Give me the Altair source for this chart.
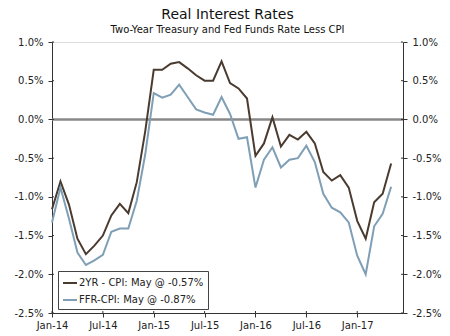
import altair as alt
import pandas as pd

months = ["Jan-14", "Feb-14", "Mar-14", "Apr-14", "May-14", "Jun-14", "Jul-14", "Aug-14", "Sep-14", "Oct-14", "Nov-14", "Dec-14",
          "Jan-15", "Feb-15", "Mar-15", "Apr-15", "May-15", "Jun-15", "Jul-15", "Aug-15", "Sep-15", "Oct-15", "Nov-15", "Dec-15",
          "Jan-16", "Feb-16", "Mar-16", "Apr-16", "May-16", "Jun-16", "Jul-16", "Aug-16", "Sep-16", "Oct-16", "Nov-16", "Dec-16",
          "Jan-17", "Feb-17", "Mar-17", "Apr-17", "May-17"]

two_yr = [-1.16, -0.80, -1.10, -1.54, -1.74, -1.63, -1.50, -1.24, -1.09, -1.21, -0.81, -0.15,
          0.64, 0.64, 0.72, 0.74, 0.66, 0.57, 0.50, 0.50, 0.75, 0.47, 0.40, 0.27,
          -0.47, -0.31, 0.03, -0.35, -0.20, -0.26, -0.16, -0.31, -0.68, -0.79, -0.72, -0.88,
          -1.31, -1.54, -1.07, -0.96, -0.57]

ffr = [-1.33, -0.88, -1.28, -1.72, -1.88, -1.82, -1.75, -1.45, -1.41, -1.41, -1.05, -0.45,
       0.34, 0.28, 0.32, 0.45, 0.29, 0.13, 0.09, 0.06, 0.29, 0.07, -0.25, -0.23,
       -0.88, -0.52, -0.36, -0.62, -0.52, -0.50, -0.34, -0.55, -0.96, -1.14, -1.20, -1.33,
       -1.76, -2.00, -1.38, -1.22, -0.87]

series_names = ["2YR - CPI: May @ -0.57%", "FFR-CPI: May @ -0.87%"]
series_colors = ["#4a3b30", "#7f9fb6"]

y_ticks = [-2.5, -2.0, -1.5, -1.0, -0.5, 0.0, 0.5, 1.0]
x_tick_labels = ["Jan-14", "Jul-14", "Jan-15", "Jul-15", "Jan-16", "Jul-16", "Jan-17"]

rows = []
for i, m in enumerate(months):
    rows.append({"idx": i, "month": m, "series": series_names[0], "value": two_yr[i]})
    rows.append({"idx": i, "month": m, "series": series_names[1], "value": ffr[i]})
df = pd.DataFrame(rows)

x_tick_idx = [months.index(m) for m in x_tick_labels]

FONT = "DejaVu Sans"
W, H = 351, 271
yscale = alt.Scale(domain=[-2.5, 1.0], nice=False, zero=False)
xscale = alt.Scale(domain=[0, 41.4], nice=False, zero=False)
label_expr_y = "(datum.value < 0 ? '-' : '') + format(abs(datum.value), '.1f') + '%'"
label_expr_x = "".join("datum.value == %d ? '%s' : " % (i, s) for i, s in zip(x_tick_idx, x_tick_labels)) + "''"

axis_common = dict(values=y_ticks, labelExpr=label_expr_y, grid=False, tickSize=4,
                   labelPadding=5, labelFont=FONT, labelFontSize=10, labelColor="#222",
                   domainColor="#333", tickColor="#333", title=None)

x_axis = alt.Axis(values=x_tick_idx, labelExpr=label_expr_x, grid=False, tickSize=4,
                  labelPadding=3, labelFont=FONT, labelFontSize=10, labelColor="#222",
                  labelOverlap=False, labelFlush=False,
                  domainColor="#333", tickColor="#333", title=None)

lines = alt.Chart(df).mark_line(strokeWidth=2).encode(
    x=alt.X("idx:Q", scale=xscale, axis=x_axis),
    y=alt.Y("value:Q", scale=yscale, axis=alt.Axis(orient="left", **axis_common)),
    color=alt.Color("series:N", scale=alt.Scale(domain=series_names, range=series_colors),
                    legend=alt.Legend(title=None, orient="none", legendX=6, legendY=229,
                                      symbolType="stroke", symbolStrokeWidth=2, symbolSize=196,
                                      labelFont=FONT, labelFontSize=10, labelColor="#222",
                                      labelOffset=1, rowPadding=4, padding=4,
                                      strokeColor="#444", fillColor="white")),
    detail="series:N",
)

zero = alt.Chart(pd.DataFrame({"v": [0.0]})).mark_rule(color="#888888", strokeWidth=2.5).encode(
    y=alt.Y("v:Q", scale=yscale, axis=alt.Axis(orient="right", **axis_common)),
)

yt = pd.DataFrame({"v": y_ticks})
left_in = alt.Chart(yt).mark_rule(color="#333", strokeWidth=1).encode(
    y=alt.Y("v:Q", scale=yscale, axis=None), x=alt.value(0), x2=alt.value(2))
right_in = alt.Chart(yt).mark_rule(color="#333", strokeWidth=1).encode(
    y=alt.Y("v:Q", scale=yscale, axis=None), x=alt.value(W - 2), x2=alt.value(W))
xt = pd.DataFrame({"idx": x_tick_idx})
bottom_in = alt.Chart(xt).mark_rule(color="#333", strokeWidth=1).encode(
    x=alt.X("idx:Q", scale=xscale, axis=x_axis), y=alt.value(H - 2), y2=alt.value(H))

chart = alt.layer(zero, lines, left_in, right_in, bottom_in).resolve_axis(y="independent").properties(
    width=W, height=H,
    autosize=alt.AutoSizeParams(type="none"),
    padding={"left": 52, "top": 42, "right": 47, "bottom": 23},
    title=alt.TitleParams(text="Real Interest Rates", subtitle="Two-Year Treasury and Fed Funds Rate Less CPI",
                          font=FONT, fontSize=14, fontWeight="normal", color="#111",
                          subtitleFont=FONT, subtitleFontSize=10, subtitleColor="#111",
                          anchor="middle", offset=2, subtitlePadding=3),
).configure_view(stroke="#333", strokeWidth=1).configure(background="white")

chart.save("out.html", embed_options={"renderer": "svg", "actions": False})
